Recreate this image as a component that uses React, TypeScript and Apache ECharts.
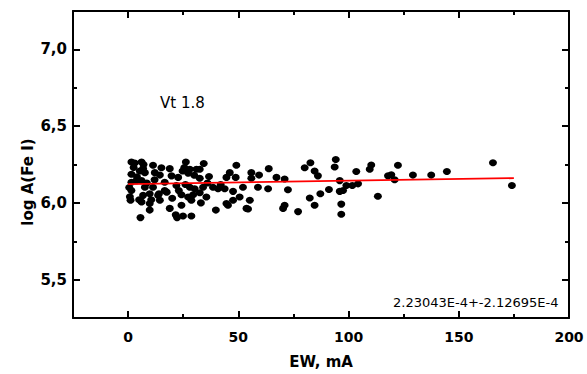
import React, { useEffect, useRef } from "react";
import * as echarts from "echarts";

const ewValues: number[] = [
  1.5, 6.1, 26.2, 34.3, 49.1, 82.7, 94.2, 11.3, 15.1, 6.8, 18.9, 28.0, 31.0, 32.5, 63.8, 80.1, 93.7,
  1.5, 5.3, 7.6, 12.1, 14.4, 19.7, 22.7, 24.7, 27.2, 32.5, 36.7, 44.6, 46.1, 48.8, 55.9, 59.4, 55.9,
  67.3, 71.0, 84.6, 86.1, 96.0, 1.5, 3.8, 6.1, 7.6, 11.3, 16.6, 21.9, 28.0, 30.2, 34.0, 38.5, 40.8,
  43.8, 47.6, 52.1, 58.9, 63.5, 72.5, 91.1, 96.0, 99.0, 1.5, 6.8, 9.8, 13.6, 16.6, 24.2, 27.2, 29.5,
  32.5, 35.5, 50.6, 47.6, 55.2, 82.4, 87.2, 1.1, 6.1, 9.8, 14.4, 24.2, 28.7, 44.6, 45.3, 53.7, 71.0,
  70.3, 77.1, 84.6, 96.7, 9.8, 18.9, 39.8, 54.4, 96.7, 5.6, 21.6, 22.2, 24.9, 28.7, 97.5, 101.7,
  104.3, 103.5, 109.6, 110.3, 113.3, 117.9, 119.4, 120.9, 122.4, 129.2, 137.5, 144.6, 165.5, 174.1,
  0.5, 2.5, 4.0, 8.5, 10.5, 12.0, 17.5, 20.0, 23.0, 26.0, 30.0, 33.0, 36.0, 0.8, 3.0, 7.0, 25.5, 42.0,
  5.0, 14.0,
];

const logAValues: number[] = [
  6.266, 6.266, 6.266, 6.257, 6.245, 6.261, 6.283, 6.245, 6.229, 6.223, 6.223, 6.219, 6.219, 6.219,
  6.223, 6.229, 6.234, 6.187, 6.208, 6.197, 6.197, 6.181, 6.176, 6.166, 6.208, 6.194, 6.16, 6.172,
  6.166, 6.197, 6.166, 6.197, 6.181, 6.16, 6.166, 6.155, 6.208, 6.176, 6.145, 6.134, 6.145, 6.145,
  6.102, 6.102, 6.134, 6.113, 6.102, 6.092, 6.102, 6.102, 6.092, 6.092, 6.075, 6.102, 6.102, 6.092,
  6.085, 6.087, 6.075, 6.113, 6.081, 6.049, 6.06, 6.049, 6.081, 6.053, 6.038, 6.053, 6.066, 6.038,
  6.038, 6.017, 6.017, 6.032, 6.06, 6.017, 6.006, 5.996, 6.017, 5.985, 6.017, 5.996, 5.985, 5.964,
  5.985, 5.964, 5.943, 5.985, 5.992, 5.953, 5.964, 5.953, 5.96, 5.926, 5.904, 5.922, 5.904, 5.915,
  5.915, 6.081, 6.113, 6.124, 6.204, 6.219, 6.247, 6.043, 6.176, 6.183, 6.151, 6.245, 6.181, 6.181,
  6.204, 6.261, 6.113, 6.1, 6.23, 6.17, 6.13, 6.02, 6.15, 6.07, 6.03, 6.08, 6.12, 6.18, 6.0, 6.13,
  6.04, 6.26, 6.25, 6.23, 6.12, 6.02, 6.06,
];

const fitEw: number[] = [0, 175];
const fitLogA: number[] = [6.122, 6.161];

const xMajorTicks: number[] = [0, 50, 100, 150, 200];
const xMinorTicks: number[] = [25, 75, 125, 175];
const yMajorTicks: number[] = [5.5, 6.0, 6.5, 7.0];
const yMinorTicks: number[] = [5.25, 5.75, 6.25, 6.75, 7.25];

const annotationVt = "Vt 1.8";
const annotationSlope = "2.23043E-4+-2.12695E-4";
const xName = "EW, mA";
const yName = "log A(Fe I)";

export default function App() {
  const ref = useRef<HTMLDivElement>(null);

  useEffect(() => {
    document.body.style.margin = "0";
    if (!ref.current) return;
    const chart = echarts.init(ref.current, undefined, { renderer: "svg" });

    const black = "#000";
    const baseX = { type: "value", min: -25, max: 200, gridIndex: 0, splitLine: { show: false } };
    const baseY = { type: "value", min: 5.25, max: 7.25, gridIndex: 0, splitLine: { show: false } };
    const lineOn = { show: true, onZero: false, lineStyle: { color: black, width: 2 } };
    const lineOff = { show: false, onZero: false };

    const tick = (values: number[], len: number) => ({
      show: true,
      inside: true,
      length: len,
      customValues: values,
      lineStyle: { color: black, width: 2 },
    });

    const pts = ewValues.map((x, i) => [x, logAValues[i]]);
    const fit = fitEw.map((x, i) => [x, fitLogA[i]]);

    chart.setOption({
      animation: false,
      backgroundColor: "#fff",
      grid: { left: 73, right: 18, top: 11, bottom: 50, containLabel: false },
      xAxis: [
        {
          ...baseX,
          position: "bottom",
          axisLine: lineOn,
          axisTick: tick(xMajorTicks, 7),
          axisLabel: {
            show: true,
            customValues: xMajorTicks,
            margin: 12,
            color: black,
            fontFamily: "DejaVu Sans",
            fontWeight: "bold",
            fontSize: 14,
            formatter: (v: number) => String(v),
          },
          name: xName,
          nameLocation: "middle",
          nameGap: 36,
          nameTextStyle: { color: black, fontFamily: "DejaVu Sans", fontWeight: "bold", fontSize: 15 },
        },
        { ...baseX, position: "bottom", axisLine: lineOff, axisTick: tick(xMinorTicks, 4), axisLabel: { show: false } },
        { ...baseX, position: "top", axisLine: lineOn, axisTick: tick(xMajorTicks, 7), axisLabel: { show: false } },
        { ...baseX, position: "top", axisLine: lineOff, axisTick: tick(xMinorTicks, 4), axisLabel: { show: false } },
      ],
      yAxis: [
        {
          ...baseY,
          position: "left",
          axisLine: lineOn,
          axisTick: tick(yMajorTicks, 7),
          axisLabel: {
            show: true,
            customValues: yMajorTicks,
            margin: 6,
            color: black,
            fontFamily: "DejaVu Sans",
            fontWeight: "bold",
            fontSize: 15,
            formatter: (v: number) => v.toFixed(1).replace(".", ","),
          },
        },
        { ...baseY, position: "left", axisLine: lineOff, axisTick: tick(yMinorTicks, 4), axisLabel: { show: false } },
        { ...baseY, position: "right", axisLine: lineOn, axisTick: tick(yMajorTicks, 7), axisLabel: { show: false } },
        { ...baseY, position: "right", axisLine: lineOff, axisTick: tick(yMinorTicks, 4), axisLabel: { show: false } },
      ],
      series: [
        {
          type: "scatter",
          xAxisIndex: 0,
          yAxisIndex: 0,
          data: pts,
          symbol: "circle",
          symbolSize: [8, 7],
          itemStyle: { color: black, opacity: 1 },
          silent: true,
        },
        {
          type: "line",
          xAxisIndex: 0,
          yAxisIndex: 0,
          data: fit,
          showSymbol: false,
          symbol: "none",
          lineStyle: { color: "#ff0000", width: 1.8 },
          silent: true,
          z: 3,
        },
      ],
      graphic: [
        {
          type: "text",
          x: 28,
          y: 182,
          rotation: Math.PI / 2,
          style: {
            text: yName,
            fill: black,
            font: "bold 15px 'DejaVu Sans'",
            align: "center",
            verticalAlign: "middle",
          },
        },
        {
          type: "text",
          x: 160,
          y: 103,
          style: {
            text: annotationVt,
            fill: black,
            font: "15px 'DejaVu Sans'",
            align: "left",
            verticalAlign: "middle",
          },
        },
        {
          type: "text",
          x: 393,
          y: 302,
          style: {
            text: annotationSlope,
            fill: black,
            font: "13px 'DejaVu Sans'",
            align: "left",
            verticalAlign: "middle",
          },
        },
      ],
    });

    return () => {
      chart.dispose();
    };
  }, []);

  return <div ref={ref} style={{ width: 587, height: 374 }} />;
}
